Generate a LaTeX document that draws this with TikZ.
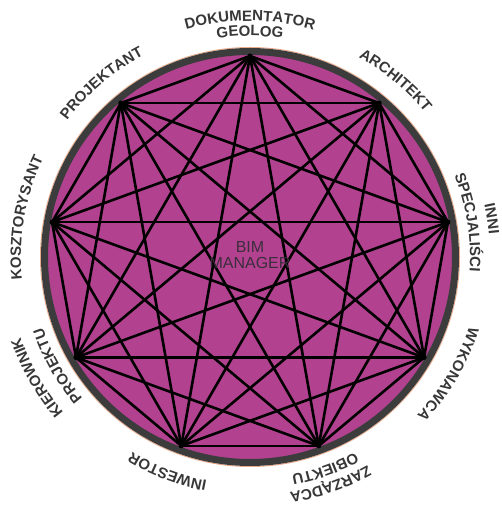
\documentclass[tikz,border=0pt]{standalone}
\usepackage{fontspec}
\setmainfont{Liberation Sans}
\usetikzlibrary{decorations.text}
\definecolor{fillmag}{RGB}{178,66,144}
\definecolor{rimgray}{RGB}{60,60,60}
\definecolor{peach}{RGB}{232,172,140}
\definecolor{lbl}{RGB}{55,55,55}
\definecolor{ctr}{RGB}{60,45,60}
\newcommand\lblfont{\fontsize{15}{18}\selectfont\bfseries\color{lbl}}
\newcommand\mylbl[3]{\path[decorate,decoration={text along path,text align=center,text={|\lblfont|#3}}] (#1+70:#2) arc[start angle=#1+70,end angle=#1-70,radius=#2];}
\tikzset{edgeline/.style={black,line width=2.6pt,line cap=round}}
\begin{document}
\begin{tikzpicture}[x=1pt,y=1pt]
\useasboundingbox (0,0) rectangle (502,511);
\begin{scope}[shift={(250,254)}]
\fill[fillmag] (0,0) circle[radius=205];
\draw[peach,line width=1pt] (0,0) circle[radius=209.5];
\draw[rimgray,line width=7pt] (0,0) circle[radius=205.5];
\foreach \i in {0,...,8} \coordinate (v\i) at ({90-40*\i}:201);
\foreach \i in {0,...,7}{\pgfmathtruncatemacro\nxt{\i+1}\foreach \j in {\nxt,...,8}{\draw[edgeline] (v\i) -- (v\j);}}
\foreach \i in {0,...,8} \fill (v\i) circle[radius=2.5];
\node[align=center,font=\fontsize{16}{16.5}\selectfont,text=ctr] (bim) at (0,2) {BIM\\MANAGER};
\mylbl{90}{236}{DOKUMENTATOR}
\mylbl{90}{221}{GEOLOG}
\mylbl{50.5}{227}{ARCHITEKT}
\mylbl{9}{240}{INNI}
\mylbl{9}{220}{SPECJALIŚCI}
\mylbl{-30.5}{230}{WYKONAWCA}
\mylbl{-70.5}{239}{ZARZĄDCA}
\mylbl{-70.5}{222}{OBIEKTU}
\mylbl{-111}{228}{INWESTOR}
\mylbl{-150.5}{243}{KIEROWNIK}
\mylbl{-150.5}{219}{PROJEKTU}
\mylbl{170}{229}{KOSZTORYSANT}
\mylbl{130.5}{228}{PROJEKTANT}
\end{scope}
\end{tikzpicture}
\end{document}
